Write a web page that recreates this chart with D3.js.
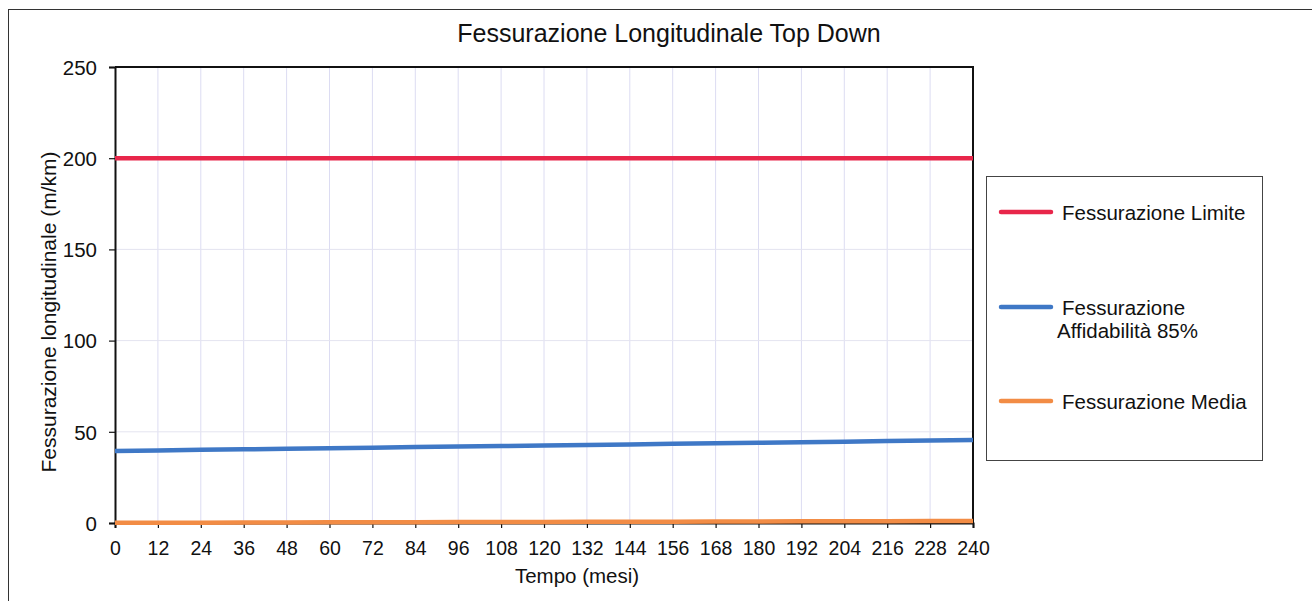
<!DOCTYPE html>
<html>
<head>
<meta charset="utf-8">
<script src="https://cdn.jsdelivr.net/npm/d3@7"></script>
<style>
  body { margin: 0; background: #fff; }
  svg { font-family: "Liberation Sans", Arial, sans-serif; }
</style>
</head>
<body>
<svg width="1312" height="601"></svg>
<script>
// months on the x axis
const months = [0, 12, 24, 36, 48, 60, 72, 84, 96, 108, 120, 132, 144, 156, 168, 180, 192, 204, 216, 228, 240];
const yTicks = [0, 50, 100, 150, 200, 250];

// values (m/km)
const limite = [200, 200, 200, 200, 200, 200, 200, 200, 200, 200, 200, 200, 200, 200, 200, 200, 200, 200, 200, 200, 200];
const affidabilita = [39.5, 39.8, 40.1, 40.4, 40.7, 41.0, 41.3, 41.6, 41.9, 42.2, 42.5, 42.8, 43.1, 43.4, 43.7, 44.0, 44.3, 44.6, 44.9, 45.2, 45.5];
const media = [0.1, 0.15, 0.2, 0.25, 0.3, 0.35, 0.4, 0.45, 0.5, 0.55, 0.6, 0.65, 0.7, 0.75, 0.8, 0.85, 0.9, 0.95, 1.0, 1.05, 1.1];

const seriesNames = ["Fessurazione Limite", "Fessurazione Affidabilità 85%", "Fessurazione Media"];
const seriesColors = ["#e8264a", "#3f78c6", "#f28c45"];

const svg = d3.select("svg");
const plotL = 115, plotR = 973, plotT = 67, plotB = 523;

const x = d3.scaleLinear().domain([0, 240]).range([plotL, plotR]);
const y = d3.scaleLinear().domain([0, 250]).range([plotB, plotT]);

// outer frame
svg.append("rect")
    .attr("x", 8.5).attr("y", 9.5)
    .attr("width", 1320).attr("height", 620)
    .attr("fill", "none").attr("stroke", "#333").attr("stroke-width", 1);

// grid
svg.append("g").selectAll("line")
    .data(months.slice(1, -1))
    .enter().append("line")
    .attr("x1", d => x(d)).attr("x2", d => x(d))
    .attr("y1", plotT).attr("y2", plotB)
    .attr("stroke", "#dcdcf2").attr("stroke-width", 1);
svg.append("g").selectAll("line")
    .data(yTicks.slice(1, -1))
    .enter().append("line")
    .attr("x1", plotL).attr("x2", plotR)
    .attr("y1", d => y(d)).attr("y2", d => y(d))
    .attr("stroke", "#e4e4f0").attr("stroke-width", 1);

// plot border (top, right)
svg.append("path")
    .attr("d", `M${plotL},${plotT}H${plotR}V${plotB}`)
    .attr("fill", "none").attr("stroke", "#111").attr("stroke-width", 2);

// axes
const xAxis = svg.append("g")
    .attr("transform", `translate(0,${plotB})`)
    .call(d3.axisBottom(x).tickValues(months).tickSize(5).tickPadding(13));
const yAxis = svg.append("g")
    .attr("transform", `translate(${plotL},0)`)
    .call(d3.axisLeft(y).tickValues(yTicks).tickSize(6).tickPadding(12));
[xAxis, yAxis].forEach(a => {
    a.select(".domain").attr("stroke", "#111").attr("stroke-width", 2);
    a.selectAll(".tick line").attr("stroke", "#111").attr("stroke-width", 1.2);
    a.selectAll(".tick text").attr("fill", "#111").style("font-size", "19.5px");
});
yAxis.selectAll(".tick text").style("font-size", "20.5px").attr("dy", "0.36em");

// series
const line = d3.line().x((d, i) => x(months[i])).y(d => y(d));
[limite, affidabilita, media].forEach((vals, i) => {
    svg.append("path")
        .datum(vals)
        .attr("d", line)
        .attr("fill", "none")
        .attr("stroke", seriesColors[i])
        .attr("stroke-width", 4.5);
});

// titles
svg.append("text")
    .attr("x", 669).attr("y", 42)
    .attr("text-anchor", "middle")
    .style("font-size", "25px").attr("fill", "#111")
    .text("Fessurazione Longitudinale Top Down");
svg.append("text")
    .attr("x", 577).attr("y", 583)
    .attr("text-anchor", "middle")
    .style("font-size", "20.5px").attr("fill", "#111")
    .text("Tempo (mesi)");
svg.append("text")
    .attr("transform", "translate(56,312) rotate(-90)")
    .attr("text-anchor", "middle")
    .style("font-size", "21px").attr("fill", "#111")
    .text("Fessurazione longitudinale (m/km)");

// legend
const legend = svg.append("g");
legend.append("rect")
    .attr("x", 986.5).attr("y", 176.5)
    .attr("width", 276).attr("height", 284)
    .attr("fill", "#fff").attr("stroke", "#444").attr("stroke-width", 1);
const legendY = [212, 307, 401];
seriesNames.forEach((name, i) => {
    legend.append("line")
        .attr("x1", 1001).attr("x2", 1051)
        .attr("y1", legendY[i]).attr("y2", legendY[i])
        .attr("stroke", seriesColors[i]).attr("stroke-width", 4.5)
        .attr("stroke-linecap", "round");
});
const legendText = legend.append("g").style("font-size", "20.5px").attr("fill", "#111");
legendText.append("text").attr("x", 1062).attr("y", 220).text(seriesNames[0]);
legendText.append("text").attr("x", 1062).attr("y", 315).text("Fessurazione");
legendText.append("text").attr("x", 1057).attr("y", 338).text("Affidabilità 85%");
legendText.append("text").attr("x", 1062).attr("y", 409).text(seriesNames[2]);
</script>
</body>
</html>
